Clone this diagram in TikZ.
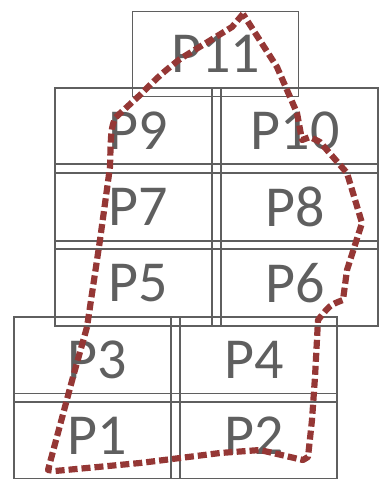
\documentclass[tikz,border=0pt]{standalone}
\usepackage{fontspec}
\setmainfont{Carlito}
\usepackage{tikz}
\definecolor{boxgray}{RGB}{95,95,95}
\definecolor{outlinered}{RGB}{149,55,53}
\tikzset{cell/.style = {draw = boxgray, line width = 1.4pt, rectangle, inner sep = 0,
                        minimum width = 166pt, minimum height = 85pt,
                        text = boxgray, font = \fontsize{58}{60}\selectfont}}
\tikzset{region/.style = {draw = outlinered, line width = 6.2pt, dash pattern = on 9pt off 4pt,
                          line join = round}}

\begin{document}
\begin{tikzpicture}[x = 1pt, y = -1pt]
      \useasboundingbox (0, 0) rectangle (382, 483);

      \node [cell] (p11) at (215.5, 54) {P11};
      \node [cell] (p9) at (138, 130.5) {P9};
      \node [cell] (p10) at (295, 130.5) {P10};
      \node [cell] (p7) at (138, 206.5) {P7};
      \node [cell] (p8) at (295, 206.5) {P8};
      \node [cell] (p5) at (138, 283.5) {P5};
      \node [cell] (p6) at (295, 283.5) {P6};
      \node [cell] (p3) at (97, 359.5) {P3};
      \node [cell] (p4) at (254, 359.5) {P4};
      \node [cell] (p1) at (97, 436) {P1};
      \node [cell] (p2) at (254, 436) {P2};

      \draw [region] (243, 14) -- (232, 27) -- (180, 59) .. controls (160, 75) .. (140, 95) -- (115, 118) .. controls (111, 130) .. (110, 167) -- (100, 240) -- (87, 327) -- (73, 377) -- (48, 470) -- (55, 471) -- (140, 463) -- (220, 453) -- (260, 450) -- (303, 460) -- (308, 457) -- (312, 420) -- (315, 377) -- (318, 320) .. controls (330, 305) .. (343, 300) -- (347, 270) -- (362, 223) -- (347, 173) -- (320, 142) -- (310, 137) -- (302, 140) -- (297, 113) -- (277, 67) -- cycle;
    \end{tikzpicture}
\end{document}
